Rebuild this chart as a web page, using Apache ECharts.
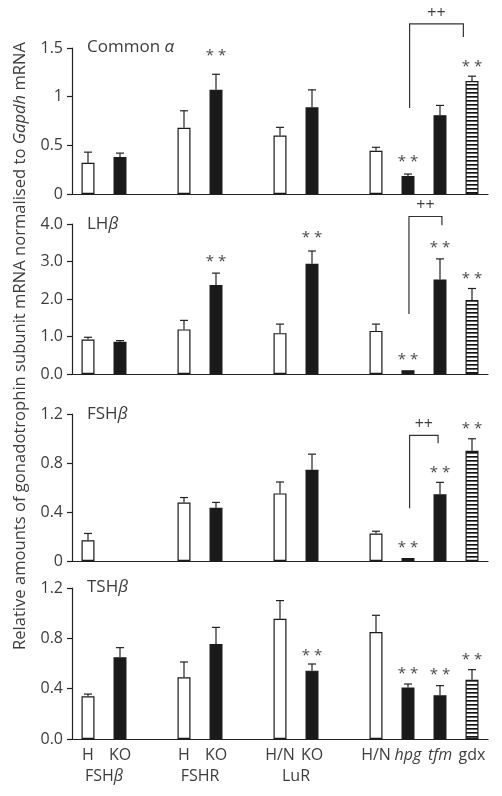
<!DOCTYPE html>
<html><head><meta charset="utf-8">
<script src="https://cdn.jsdelivr.net/npm/echarts@6/dist/echarts.min.js"></script>
<style>html,body{margin:0;padding:0;background:#fff}#c{width:502px;height:796px}</style>
</head><body><div id="c"></div>
<script>
// ---------- DATA ----------
const categories = ['H','KO','','H','KO','','H/N','KO','','H/N','hpg','tfm','gdx'];
const groupNames = ['FSH{b|β}','FSHR','LuR'];
const groupCenters = [0.5, 3.5, 6.5];

const alphaMean = [0.32,0.38,null,0.68,1.07,null,0.60,0.89,null,0.445,0.185,0.81,1.16];
const alphaSem  = [0.11,0.04,null,0.175,0.16,null,0.085,0.18,null,0.035,0.02,0.10,0.05];
const lhMean    = [0.92,0.86,null,1.19,2.37,null,1.09,2.94,null,1.15,0.10,2.52,1.97];
const lhSem     = [0.06,0.03,null,0.24,0.32,null,0.24,0.34,null,0.18,0,0.55,0.31];
const fshMean   = [0.17,null,null,0.478,0.435,null,0.552,0.744,null,0.224,0.025,0.544,0.90];
const fshSem    = [0.055,null,null,0.04,0.043,null,0.093,0.128,null,0.019,0,0.098,0.098];
const tshMean   = [0.339,0.649,null,0.49,0.755,null,0.956,0.543,null,0.85,0.41,0.347,0.471];
const tshSem    = [0.018,0.077,null,0.122,0.132,null,0.144,0.053,null,0.133,0.027,0.077,0.08];

// significance marks: [category index, height]
const alphaStars = [[4,1.46],[10,0.37],[12,1.35]];
const lhStars    = [[4,3.09],[7,3.73],[10,0.50],[11,3.48],[12,2.64]];
const fshStars   = [[10,0.137],[11,0.75],[12,1.11]];
const tshStars   = [[7,0.696],[10,0.55],[11,0.545],[12,0.662]];

// brackets (++): [anchor idx, top height, left pos, right pos, left foot, right foot]
const alphaBracket = [[10,1.747,10.05,11.73,0.884,1.613]];
const lhBracket    = [[10,4.20,10.03,11.06,1.60,3.97]];
const fshBracket   = [[10,1.025,10.05,10.94,0.43,0.962]];

const alphaTicks = ['0','0.5','1','1.5'];
const lhTicks    = ['0.0','1.0','2.0','3.0','4.0'];
const fshTicks   = ['0','0.4','0.8','1.2'];
const tshTicks   = ['0.0','0.4','0.8','1.2'];

const panelTitles = ['Common {b|α}','LH{b|β}','FSH{b|β}','TSH{b|β}'];

// ---------- STYLE / LAYOUT ----------
const FONT = 'Open Sans';
const TXT = '#3d3d3d';
const INK = '#1a1a1a';
const panels = [
  {top:48,  height:146, max:1.5, interval:0.5, mean:alphaMean, sem:alphaSem, stars:alphaStars, bracket:alphaBracket, ticks:alphaTicks},
  {top:224, height:150, max:4,   interval:1,   mean:lhMean,    sem:lhSem,    stars:lhStars,    bracket:lhBracket,    ticks:lhTicks},
  {top:414, height:147, max:1.2, interval:0.4, mean:fshMean,   sem:fshSem,   stars:fshStars,   bracket:fshBracket,   ticks:fshTicks},
  {top:588, height:151, max:1.2, interval:0.4, mean:tshMean,   sem:tshSem,   stars:tshStars,   bracket:[],           ticks:tshTicks}
];
const titleY = [50, 227, 417, 590];

const pc = document.createElement('canvas'); pc.width = 4; pc.height = 4;
const g = pc.getContext('2d');
g.fillStyle = '#fff'; g.fillRect(0,0,4,4);
g.fillStyle = '#111'; g.fillRect(0,0,4,1); g.fillStyle = '#666'; g.fillRect(0,1,4,1);
const stripes = {image: pc, repeat: 'repeat'};

function fillFor(i){
  const c = categories[i];
  if (c === 'H' || c === 'H/N') return '#fff';
  if (c === 'gdx') return stripes;
  return INK;
}
function xAt(api, pos){
  const b = Math.floor(pos);
  return api.coord([b, 0])[0] + (pos - b) * api.size([1, 0])[0];
}

const grids = [], xAxes = [], yAxes = [], series = [];
panels.forEach((p, k) => {
  grids.push({left:72, right:14, top:p.top, height:p.height});
  xAxes.push({
    type:'category', gridIndex:k, data:categories,
    axisLine:{show:true, lineStyle:{color:'#222', width:1.2}},
    axisTick:{show:false},
    axisLabel:{show:k===3, interval:0, margin:8, fontFamily:FONT, fontSize:16, color:TXT,
      formatter: v => (v==='hpg'||v==='tfm') ? '{i|'+v+'}' : v,
      rich:{i:{fontStyle:'italic', fontFamily:FONT, fontSize:16, color:TXT}}}
  });
  yAxes.push({
    type:'value', gridIndex:k, min:0, max:p.max, interval:p.interval,
    axisLine:{show:true, lineStyle:{color:'#222', width:1.2}},
    axisTick:{show:true, length:5, lineStyle:{color:'#222', width:1.2}},
    splitLine:{show:false},
    axisLabel:{margin:9, fontFamily:FONT, fontSize:16, color:TXT,
      formatter: v => p.ticks[Math.round(v / p.interval)]}
  });
  series.push({
    type:'bar', xAxisIndex:k, yAxisIndex:k, barWidth:13, silent:true, animation:false,
    data: p.mean.map((v, i) => v == null ? '-' : {value:v,
      itemStyle:{color:fillFor(i), borderColor:INK, borderWidth:1.2}})
  });
  const err = [];
  p.mean.forEach((v, i) => { if (v != null && p.sem[i] > 0) err.push([i, v, v + p.sem[i]]); });
  series.push({
    type:'custom', xAxisIndex:k, yAxisIndex:k, z:5, silent:true, animation:false, data:err,
    renderItem:(params, api) => {
      const a = api.coord([api.value(0), api.value(1)]);
      const b = api.coord([api.value(0), api.value(2)]);
      const st = {stroke:'#222', lineWidth:1.2};
      return {type:'group', children:[
        {type:'line', shape:{x1:a[0], y1:a[1], x2:b[0], y2:b[1]}, style:st},
        {type:'line', shape:{x1:b[0]-4, y1:b[1], x2:b[0]+4, y2:b[1]}, style:st}
      ]};
    }
  });
  series.push({
    type:'custom', xAxisIndex:k, yAxisIndex:k, z:6, silent:true, animation:false, data:p.stars,
    renderItem:(params, api) => {
      const c = api.coord([api.value(0), api.value(1)]);
      return {type:'text', x:c[0], y:c[1] + 4, style:{text:'* *', fontFamily:FONT, fontSize:15,
        fill:'#4a4a4a', align:'center', verticalAlign:'middle'}};
    }
  });
  if (p.bracket.length) series.push({
    type:'custom', xAxisIndex:k, yAxisIndex:k, z:6, silent:true, animation:false, clip:false, data:p.bracket,
    renderItem:(params, api) => {
      const yTop = api.coord([api.value(0), api.value(1)])[1];
      const xl = xAt(api, api.value(2)), xr = xAt(api, api.value(3));
      const yl = api.coord([api.value(0), api.value(4)])[1];
      const yr = api.coord([api.value(0), api.value(5)])[1];
      return {type:'group', children:[
        {type:'polyline', shape:{points:[[xl,yl],[xl,yTop],[xr,yTop],[xr,yr]]},
          style:{stroke:'#333', lineWidth:1.2, fill:null}},
        {type:'text', x:(xl+xr)/2, y:yTop - 11, style:{text:'++', fontFamily:FONT, fontSize:16,
          fill:TXT, align:'center', verticalAlign:'middle'}}
      ]};
    }
  });
  if (k === 3) series.push({
    type:'custom', xAxisIndex:k, yAxisIndex:k, z:6, silent:true, animation:false, clip:false,
    data: groupCenters.map(c => [0, 0, c]),
    renderItem:(params, api) => {
      const x = xAt(api, api.value(2));
      const y = api.coord([0, 0])[1];
      return {type:'text', x:x, y:y + 29, style:{text:groupNames[params.dataIndex], fontFamily:FONT,
        fontSize:16, fill:TXT, align:'center', verticalAlign:'top',
        rich:{b:{fontStyle:'italic', fontFamily:FONT, fontSize:16, fill:TXT}}}};
    }
  });
});

const graphics = panelTitles.map((t, k) => ({
  type:'text', left:87, top:titleY[k] - 11,
  style:{text:t, fontFamily:FONT, fontSize:17, fill:TXT,
    rich:{b:{fontStyle:'italic', fontFamily:FONT, fontSize:17, fill:TXT}}}
}));
graphics.push({
  type:'text', x:20, y:346, rotation:Math.PI/2,
  style:{text:'Relative amounts of gonadotrophin subunit mRNA normalised to {i|Gapdh} mRNA',
    fontFamily:FONT, fontSize:16.6, fill:TXT, align:'center', verticalAlign:'middle',
    rich:{i:{fontStyle:'italic', fontFamily:FONT, fontSize:16.6, fill:TXT}}}
});

const chart = echarts.init(document.getElementById('c'), null, {renderer:'canvas'});
chart.setOption({
  animation:false,
  backgroundColor:'#fff',
  grid:grids, xAxis:xAxes, yAxis:yAxes, series:series, graphic:graphics
});
</script></body></html>
